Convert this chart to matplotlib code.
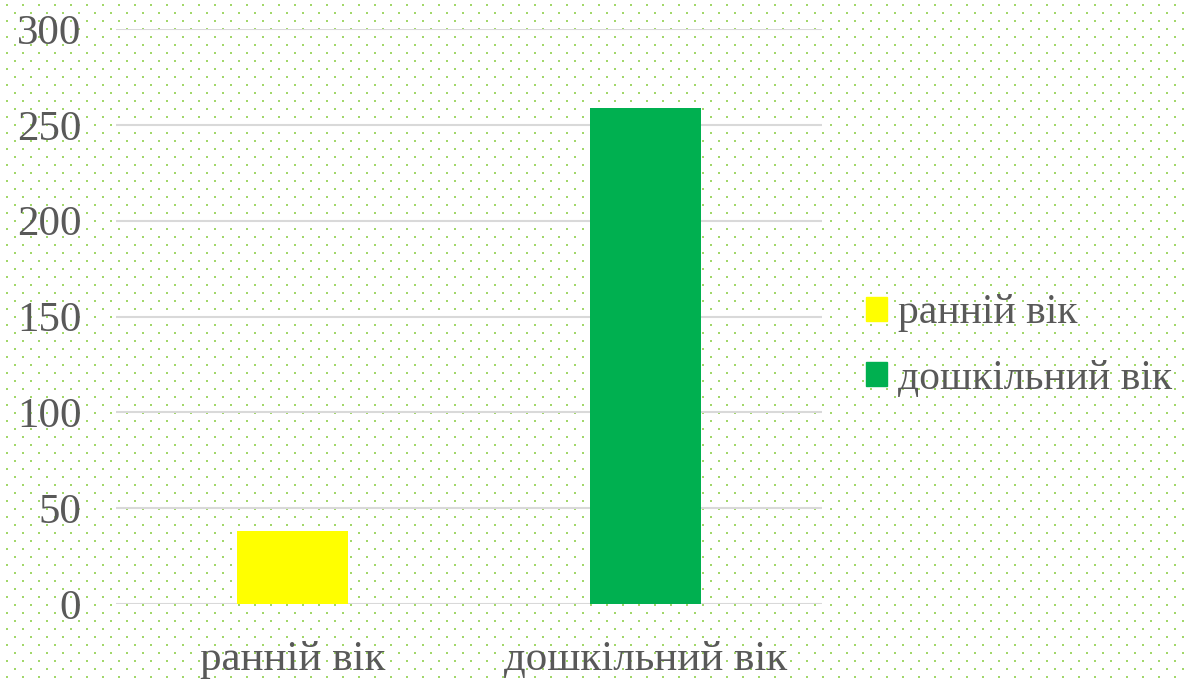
import numpy as np
import matplotlib.pyplot as plt
from matplotlib.patches import Patch

# data
categories = ['ранній вік', 'дошкільний вік']
values = [38, 259]
colors = ['#FFFF00', '#00B050']
yticks = [0, 50, 100, 150, 200, 250, 300]

W, H = 1187, 679
fig = plt.figure(figsize=(W / 100, H / 100), dpi=100)
fig.patch.set_facecolor('white')

# dotted background pattern
bg = fig.add_axes([0, 0, 1, 1], zorder=0)
bg.set_xlim(0, W)
bg.set_ylim(H, 0)
bg.axis('off')
xs, ys = [], []
for i, y in enumerate(np.arange(5, H, 8)):
    off = 0 if i % 2 == 0 else 8
    for x in np.arange(off + 7, W, 16):
        xs.append(x)
        ys.append(y)
bg.scatter(xs, ys, s=4, color='#92D050', alpha=0.85, linewidths=0, marker='s')

ax = fig.add_axes([116 / W, 1 - 604 / H, 706 / W, 575 / H], zorder=1)
ax.patch.set_alpha(0)
x = np.arange(len(categories))
ax.bar(x, values, width=0.314, color=colors, zorder=3)
ax.set_xlim(-0.5, len(categories) - 0.5)
ax.set_ylim(0, 300)
ax.set_yticks(yticks)
ax.set_xticks(x)
ax.set_xticklabels(categories)
ax.yaxis.grid(True, color='#D9D9D9', linewidth=1.5, zorder=0)
for s in ax.spines.values():
    s.set_visible(False)
ax.tick_params(length=0, colors='#595959', labelsize=31, labelfontfamily='Liberation Serif')
ax.tick_params(axis='y', pad=25)
ax.tick_params(axis='x', pad=26)

handles = [Patch(color=c, label=l) for c, l in zip(colors, categories)]
leg = fig.legend(handles=handles, loc='center left', bbox_to_anchor=(858 / W, 1 - 346 / H),
                 frameon=False, prop={'family': 'Liberation Serif', 'size': 30},
                 handlelength=0.5, handleheight=0.5, handletextpad=0.25, labelspacing=0.65,
                 borderaxespad=0, borderpad=0.2)
for t in leg.get_texts():
    t.set_color('#595959')

fig.savefig('out.png', dpi=100)
